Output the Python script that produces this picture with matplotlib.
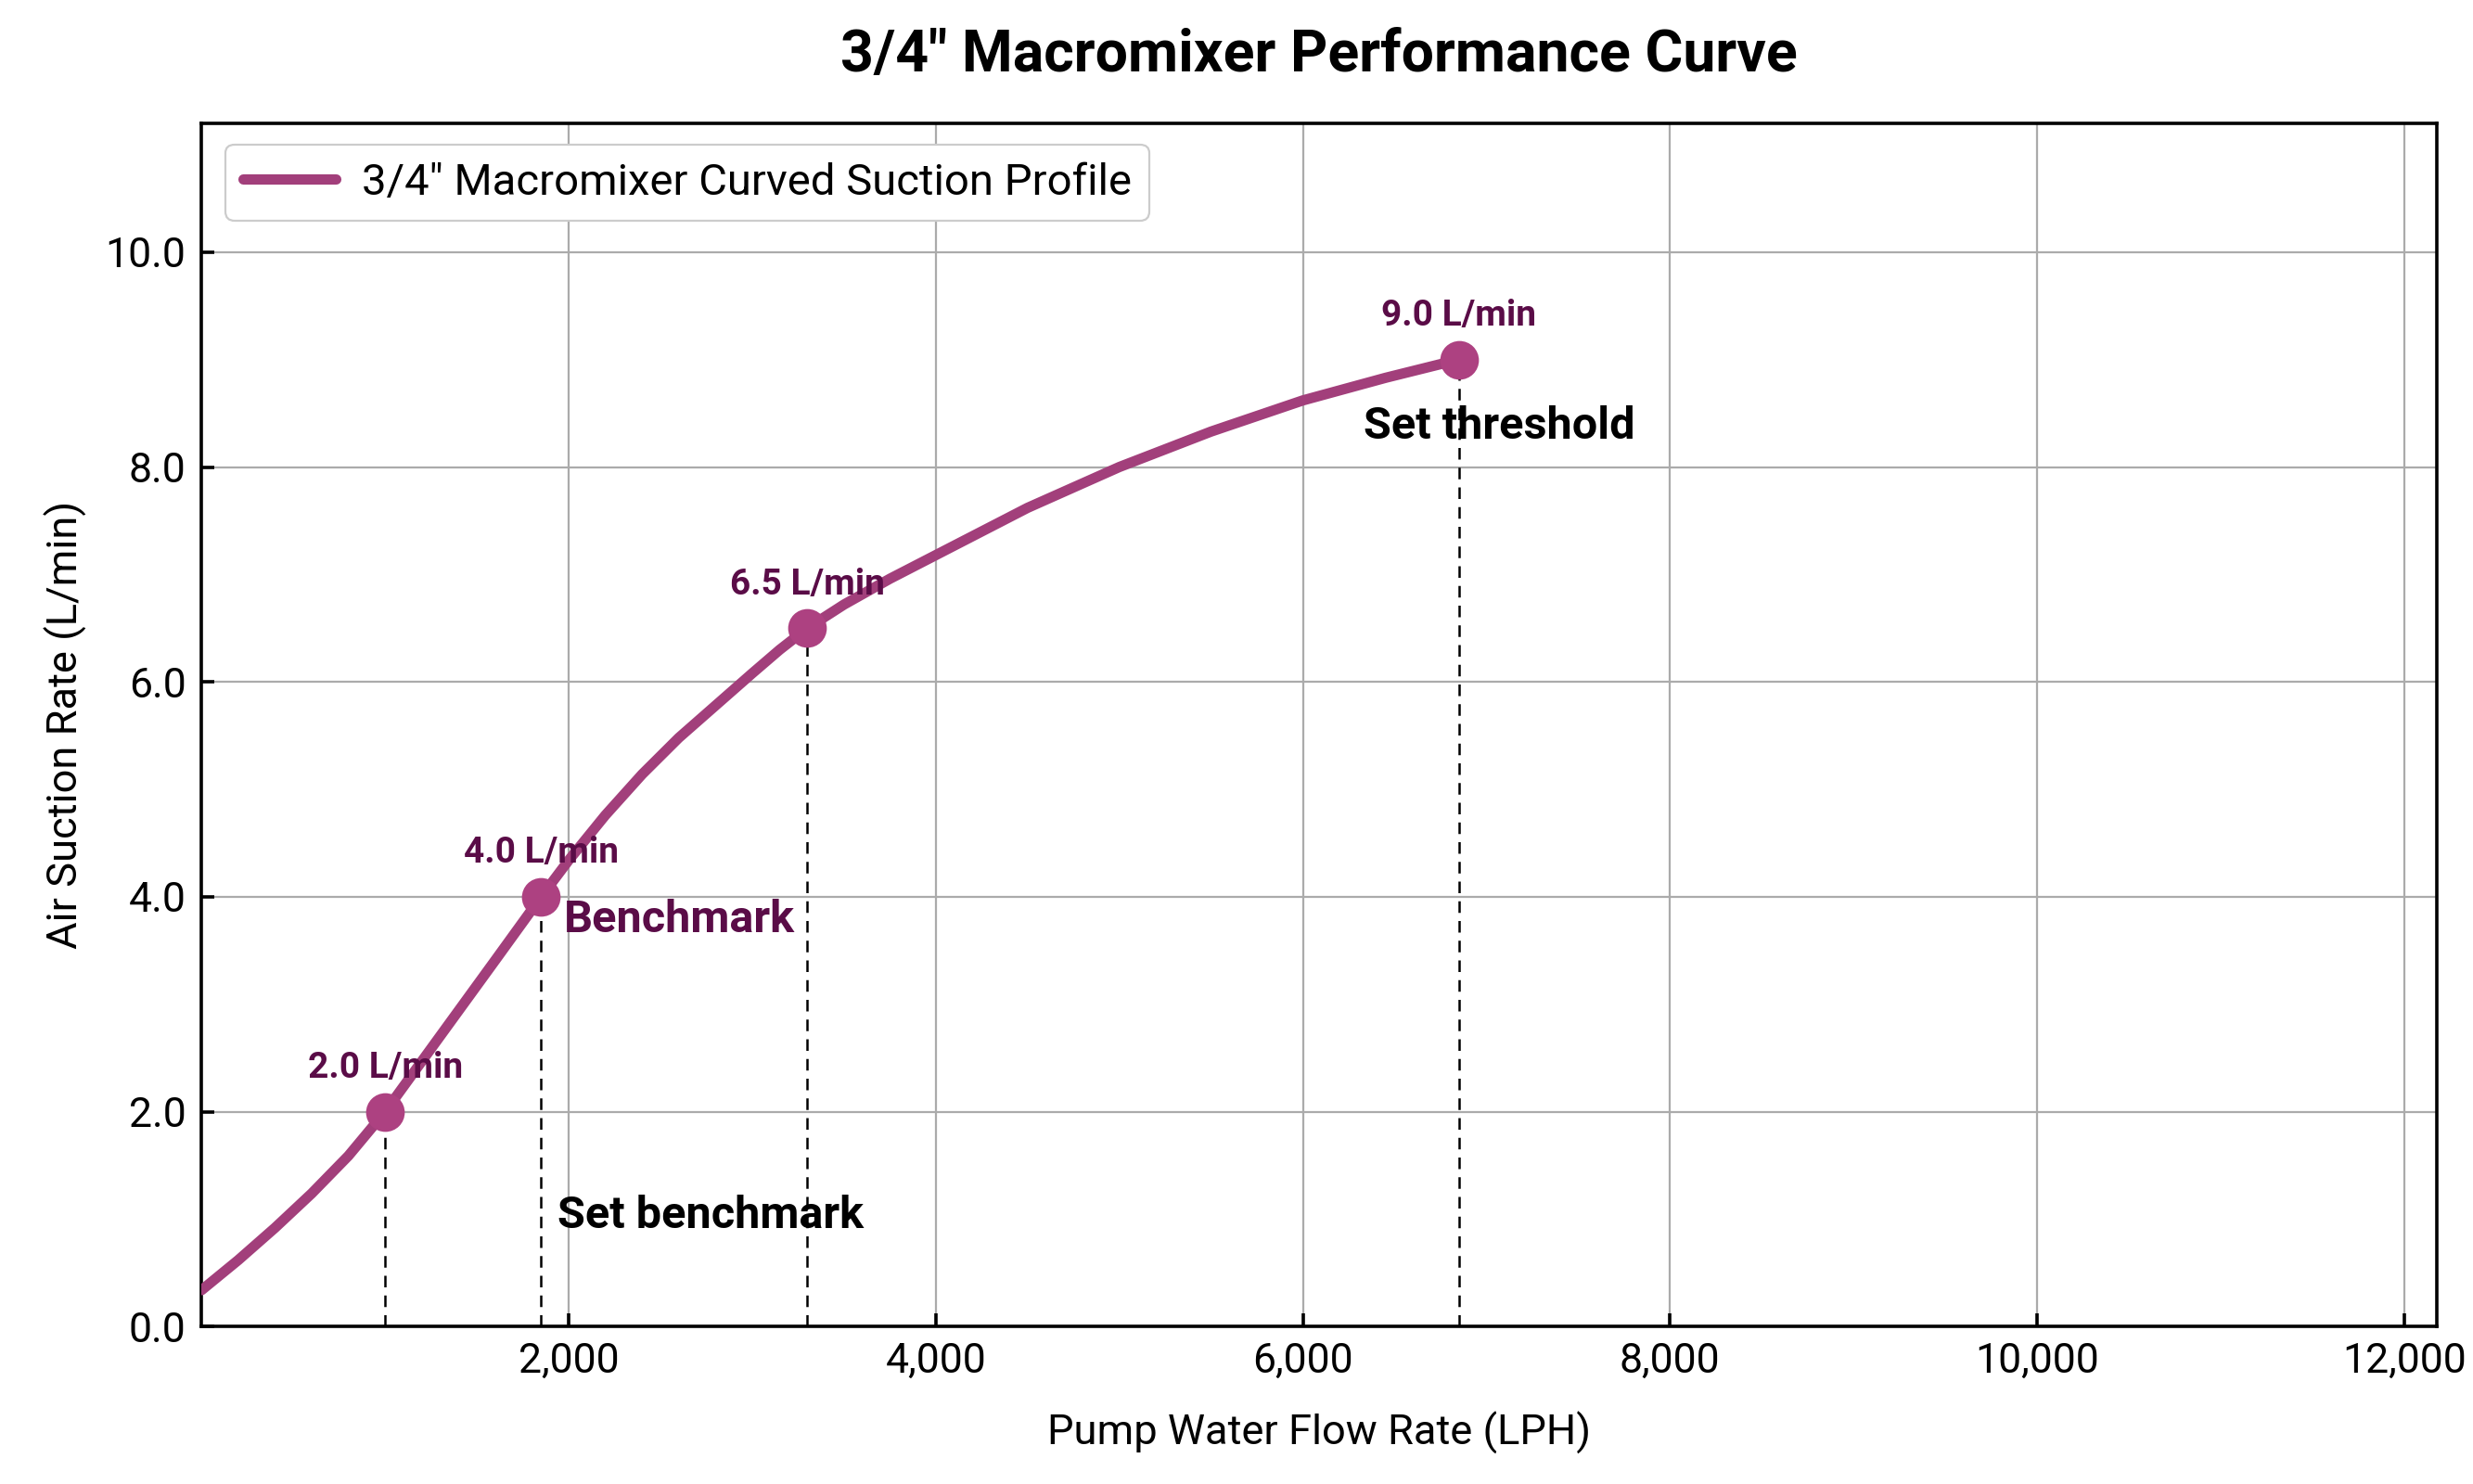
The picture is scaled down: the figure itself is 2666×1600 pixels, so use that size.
import matplotlib
matplotlib.use("Agg")
import matplotlib.pyplot as plt
from matplotlib.ticker import FuncFormatter

plt.rcParams['font.family'] = ['Roboto', 'DejaVu Sans']

# curve (LPH vs L/min)
flow_lph = [0, 200, 400, 600, 800, 1000, 1200, 1400, 1600, 1850, 2000, 2200,
            2400, 2600, 2800, 3000, 3150, 3300, 3500, 3750, 4000, 4500, 5000,
            5500, 6000, 6450, 6850]
air_lpm = [0.34, 0.62, 0.92, 1.24, 1.59, 2.0, 2.47, 2.94, 3.41, 4.0, 4.34, 4.76,
           5.14, 5.48, 5.78, 6.08, 6.30, 6.5, 6.72, 6.96, 7.18, 7.62, 8.0,
           8.33, 8.62, 8.83, 9.0]

# marked points
mark_x = [1000, 1850, 3300, 6850]
mark_y = [2.0, 4.0, 6.5, 9.0]
mark_labels = ["2.0 L/min", "4.0 L/min", "6.5 L/min", "9.0 L/min"]

x_ticks = [2000, 4000, 6000, 8000, 10000, 12000]
y_ticks = [0, 2, 4, 6, 8, 10]

LINE_C = '#a23f7b'
DOT_C = '#ad4181'
TXT_C = '#5a0c47'

fig = plt.figure(figsize=(13.33, 8), dpi=200)
ax = fig.add_axes([0.0815, 0.106, 0.904, 0.811])

ax.plot(flow_lph, air_lpm, color=LINE_C, lw=4, solid_capstyle='round',
        solid_joinstyle='round', label='3/4" Macromixer Curved Suction Profile', zorder=3)
ax.plot(mark_x, mark_y, 'o', color=DOT_C, ms=14, zorder=4)

# dashed drop lines + value labels
for x, y, lab in zip(mark_x, mark_y, mark_labels):
    ax.plot([x, x], [0, y], color='black', lw=0.9, ls=(0, (5, 3.5)), zorder=2)
    ax.annotate(lab, (x, y), xytext=(0, 17), textcoords='offset points',
                ha='center', va='center', fontsize=14, fontweight='bold',
                color=TXT_C, zorder=5)

ax.annotate("Benchmark", (mark_x[1], mark_y[1]), xytext=(9, -9),
            textcoords='offset points', ha='left', va='center',
            fontsize=17.5, fontweight='bold', color=TXT_C, zorder=5)
ax.text(1940, 1.03, "Set benchmark", ha='left', va='center',
        fontsize=17.5, fontweight='bold', color='black', zorder=5)
ax.text(6330, 8.38, "Set threshold", ha='left', va='center',
        fontsize=17.5, fontweight='bold', color='black', zorder=5)

ax.set_xlim(0, 12180)
ax.set_ylim(0, 11.2)
ax.set_xticks(x_ticks)
ax.set_yticks(y_ticks)
ax.xaxis.set_major_formatter(FuncFormatter(lambda v, p: f"{int(v):,}"))
ax.yaxis.set_major_formatter(FuncFormatter(lambda v, p: f"{v:.1f}"))
ax.tick_params(direction='in', length=5, width=1.3, labelsize=16, pad=6)

ax.grid(True, color='#ababab', lw=0.8)
ax.set_axisbelow(True)
for s in ax.spines.values():
    s.set_linewidth(1.3)
    s.set_color('black')

ax.set_xlabel("Pump Water Flow Rate (LPH)", fontsize=16.3, labelpad=12)
ax.set_ylabel("Air Suction Rate (L/min)", fontsize=16.3, labelpad=7)
ax.set_title('3/4" Macromixer Performance Curve', fontsize=22.5, fontweight='bold', pad=20)

leg = ax.legend(loc='upper left', fontsize=17, handlelength=2.1,
                handletextpad=0.6, borderpad=0.4, framealpha=1,
                edgecolor='#cccccc', borderaxespad=0.35,
                bbox_to_anchor=(0.004, 0.995))
leg.get_frame().set_linewidth(0.8)

fig.savefig("out.png", dpi=200)
